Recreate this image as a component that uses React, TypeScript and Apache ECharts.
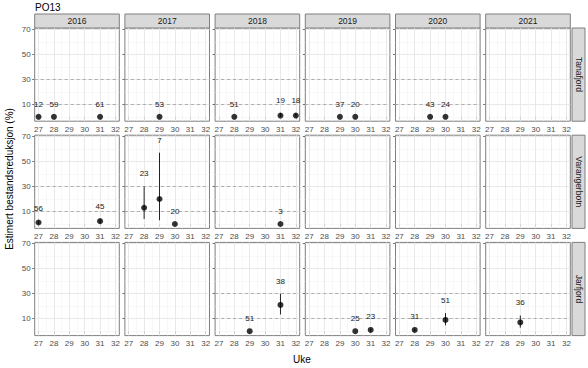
import React, { useEffect, useRef } from "react";
import * as echarts from "echarts";

const chartTitle = "PO13";
const years = ["2016", "2017", "2018", "2019", "2020", "2021"];
const areas = ["Tanafjord", "Varangerbotn", "Jarfjord"];
const weekTicks = [27, 28, 29, 30, 31, 32];
const weekMinor = [27, 27.5, 28, 28.5, 29, 29.5, 30, 30.5, 31, 31.5, 32];
const yTicks = [10, 30, 50, 70];
const yGrid = [0, 10, 20, 30, 40, 50, 60, 70];
const refLines = [10, 30];

const ptArea = [
  "Tanafjord", "Tanafjord", "Tanafjord", "Tanafjord", "Tanafjord", "Tanafjord", "Tanafjord", "Tanafjord", "Tanafjord", "Tanafjord", "Tanafjord",
  "Varangerbotn", "Varangerbotn", "Varangerbotn", "Varangerbotn", "Varangerbotn", "Varangerbotn",
  "Jarfjord", "Jarfjord", "Jarfjord", "Jarfjord", "Jarfjord", "Jarfjord", "Jarfjord",
];
const ptYear = [
  "2016", "2016", "2016", "2017", "2018", "2018", "2018", "2019", "2019", "2020", "2020",
  "2016", "2016", "2017", "2017", "2017", "2018",
  "2018", "2018", "2019", "2019", "2020", "2020", "2021",
];
const ptWeek = [27, 28, 31, 29, 28, 31, 32, 29, 30, 29, 30, 27, 31, 28, 29, 30, 31, 29, 31, 30, 31, 28, 30, 29];
const ptEstimate = [0, 0, 0, 0, 0, 1, 1, 0, 0, 0, 0, 1.2, 2.3, 13, 20, 0, 0, 0, 21, 0, 1, 1, 9, 7];
const ptLower = [0, 0, 0, 0, 0, 0, 0, 0, 0, 0, 0, 0, 0.5, 4, 3, 0, 0, 0, 13.4, 0, 0, 0, 4.7, 2.8];
const ptUpper = [0, 0, 0, 0, 0, 3, 3, 0, 0, 0, 0, 2.2, 3.8, 30, 57, 0, 0, 0, 30, 0, 2, 2, 14.5, 12.6];
const ptN = [12, 59, 61, 53, 51, 19, 18, 37, 20, 43, 24, 56, 45, 23, 7, 20, 3, 51, 38, 25, 23, 31, 51, 36];

const FONT = "'Liberation Sans', Arial, Helvetica, sans-serif";
const LEFT0 = 34.7;
const COL_STEP = 90.2;
const PW = 84.6;
const TOP0 = 28;
const ROW_STEP = 107.2;
const PH = 93.2;
const BORDER = "#7f7f7f";
const TICK_COL = "#4d4d4d";

export default function App() {
  const ref = useRef<HTMLDivElement>(null);
  useEffect(() => {
    if (!ref.current) return;
    const chart = echarts.init(ref.current, null, { renderer: "svg" });
    const grid: any[] = [];
    const xAxis: any[] = [];
    const yAxis: any[] = [];
    const series: any[] = [];
    const graphic: any[] = [];

    areas.forEach((area, r) => {
      years.forEach((year, c) => {
        const gi = r * years.length + c;
        const left = LEFT0 + c * COL_STEP;
        const top = TOP0 + r * ROW_STEP;
        grid.push({
          left, top, width: PW, height: PH,
          show: true, borderColor: BORDER, borderWidth: 1, backgroundColor: "#fff",
        });
        xAxis.push({
          gridIndex: gi, type: "value", min: 26.75, max: 32.25,
          splitLine: { show: false }, axisLine: { show: false },
          axisTick: { show: true, customValues: weekTicks, length: 2.5, lineStyle: { color: TICK_COL, width: 0.8 } },
          axisLabel: { show: true, customValues: weekTicks, fontSize: 8, color: TICK_COL, margin: 4, fontFamily: FONT },
        });
        yAxis.push({
          gridIndex: gi, type: "value", min: -3.5, max: 71,
          splitLine: { show: false }, axisLine: { show: false },
          axisTick: { show: true, customValues: yTicks, length: 2.5, lineStyle: { color: TICK_COL, width: 0.8 } },
          axisLabel: { show: c === 0, customValues: yTicks, fontSize: 8, color: TICK_COL, margin: 4, fontFamily: FONT },
        });
        // gridlines
        const gl: any[] = [];
        yGrid.forEach((v) => {
          const major = yTicks.includes(v);
          gl.push({ yAxis: v, lineStyle: { color: major ? "#e3e3e3" : "#f0f0f0", width: major ? 0.8 : 0.5, type: "solid" } });
        });
        weekMinor.forEach((v) => {
          const major = weekTicks.includes(v);
          gl.push({ xAxis: v, lineStyle: { color: major ? "#e3e3e3" : "#f0f0f0", width: major ? 0.8 : 0.5, type: "solid" } });
        });
        series.push({
          type: "scatter", xAxisIndex: gi, yAxisIndex: gi, data: [], z: 1, silent: true,
          markLine: { z: 1, silent: true, symbol: ["none", "none"], label: { show: false }, animation: false, data: gl },
        });

        const idx = ptArea.map((a, i) => i).filter((i) => ptArea[i] === area && ptYear[i] === year);
        if (idx.length > 0) {
          series.push({
            type: "scatter", xAxisIndex: gi, yAxisIndex: gi, data: [], z: 2, silent: true,
            markLine: {
              z: 2, silent: true, symbol: ["none", "none"], label: { show: false }, animation: false,
              data: refLines.map((v) => ({ yAxis: v, lineStyle: { color: "#a6a6a6", width: 0.9, type: [3, 3] } })),
            },
          });
          series.push({
            type: "custom", xAxisIndex: gi, yAxisIndex: gi, z: 3, silent: true,
            data: idx.map((i) => [ptWeek[i], ptLower[i], ptUpper[i]]),
            encode: { x: 0, y: [1, 2] },
            renderItem: (params: any, api: any) => {
              const p1 = api.coord([api.value(0), api.value(1)]);
              const p2 = api.coord([api.value(0), api.value(2)]);
              return {
                type: "line",
                shape: { x1: p1[0], y1: p1[1], x2: p2[0], y2: p2[1] },
                style: { stroke: "#222", lineWidth: 1 },
              };
            },
          });
          series.push({
            type: "scatter", xAxisIndex: gi, yAxisIndex: gi, z: 4, silent: true,
            symbol: "circle", symbolSize: 6, itemStyle: { color: "#000" },
            data: idx.map((i) => [ptWeek[i], ptEstimate[i]]),
          });
          series.push({
            type: "custom", xAxisIndex: gi, yAxisIndex: gi, z: 6, silent: true,
            data: idx.map((i) => [ptWeek[i], ptUpper[i] + 10, ptN[i]]),
            encode: { x: 0, y: 1 },
            renderItem: (params: any, api: any) => {
              const p = api.coord([api.value(0), api.value(1)]);
              return {
                type: "text",
                x: p[0], y: p[1],
                style: {
                  text: String(api.value(2)), fill: "#1a1a1a", fontSize: 8, fontFamily: FONT,
                  align: "center", verticalAlign: "middle",
                },
              };
            },
          });
        }
      });
    });

    // top strips
    years.forEach((year, c) => {
      const left = LEFT0 + c * COL_STEP;
      graphic.push({
        type: "rect", shape: { x: left, y: 14, width: PW, height: 14 },
        style: { fill: "#d9d9d9", stroke: BORDER, lineWidth: 1 }, silent: true,
      });
      graphic.push({
        type: "text", x: left + PW / 2, y: 21,
        style: { text: year, fontSize: 8.5, fill: "#1a1a1a", fontFamily: FONT, align: "center", verticalAlign: "middle" },
        silent: true,
      });
    });
    // right strips
    areas.forEach((area, r) => {
      const top = TOP0 + r * ROW_STEP;
      graphic.push({
        type: "rect", shape: { x: 572, y: top, width: 13, height: PH },
        style: { fill: "#d9d9d9", stroke: BORDER, lineWidth: 1 }, silent: true,
      });
      graphic.push({
        type: "text", x: 578.5, y: top + PH / 2, rotation: -Math.PI / 2,
        style: { text: area, fontSize: 8.5, fill: "#1a1a1a", fontFamily: FONT, align: "center", verticalAlign: "middle" },
        silent: true,
      });
    });
    graphic.push({
      type: "text", x: 35, y: 7.5,
      style: { text: chartTitle, fontSize: 10, fill: "#000", fontFamily: FONT, align: "left", verticalAlign: "middle" },
      silent: true,
    });
    graphic.push({
      type: "text", x: 302, y: 359,
      style: { text: "Uke", fontSize: 10, fill: "#000", fontFamily: FONT, align: "center", verticalAlign: "middle" },
      silent: true,
    });
    graphic.push({
      type: "text", x: 9, y: 179, rotation: Math.PI / 2,
      style: { text: "Estimert bestandsreduksjon (%)", fontSize: 10, fill: "#000", fontFamily: FONT, align: "center", verticalAlign: "middle" },
      silent: true,
    });

    chart.setOption({
      animation: false,
      backgroundColor: "#fff",
      grid, xAxis, yAxis, series, graphic,
    });
    return () => chart.dispose();
  }, []);
  return <div ref={ref} style={{ width: 588, height: 368, position: "absolute", left: 0, top: 0 }} />;
}
